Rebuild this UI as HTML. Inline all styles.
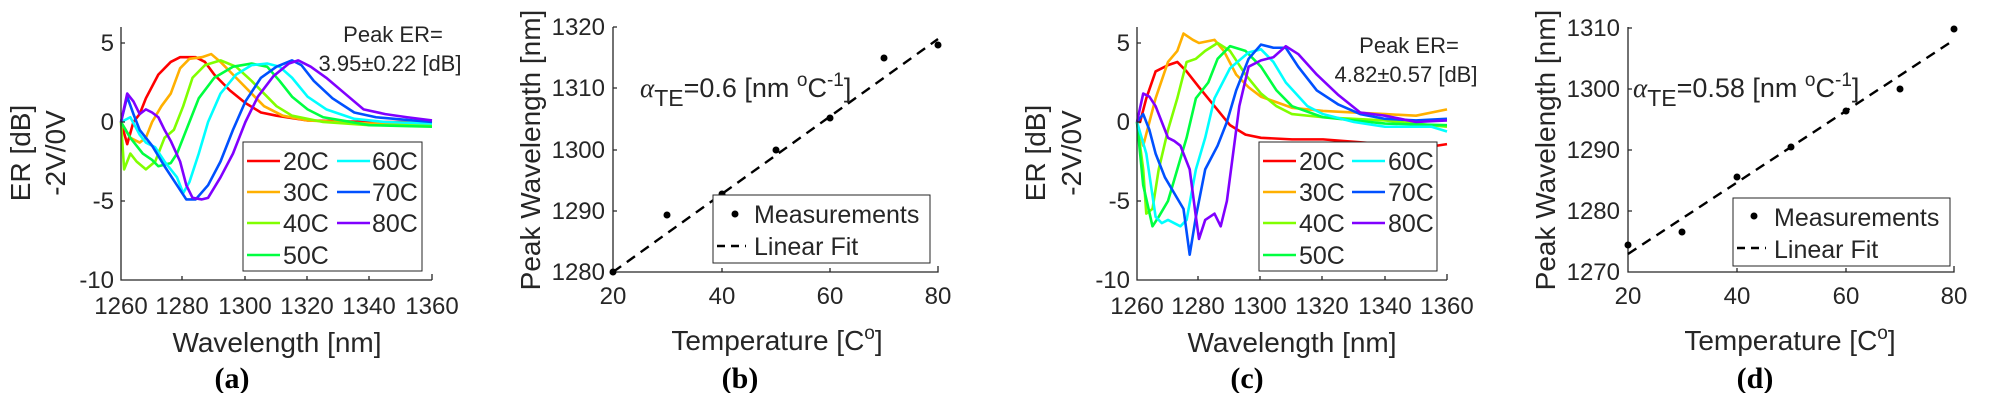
<!DOCTYPE html>
<html><head><meta charset="utf-8">
<style>
html,body{margin:0;padding:0;background:#fff;}
svg{display:block;}
text{font-family:"Liberation Sans",sans-serif;fill:#262626;}
.t{font-size:24px;}
.lab{font-size:28px;}
.leg{font-size:25px;fill:#000;}
.cap{font-family:"Liberation Serif",serif;font-weight:bold;font-size:30px;fill:#000;}
.c{fill:none;stroke-width:2.6;vector-effect:non-scaling-stroke;stroke-linejoin:round;}
.ax{stroke:#262626;stroke-width:1.3;fill:none;}
</style></head>
<body>
<svg width="2000" height="393" viewBox="0 0 2000 393" xmlns="http://www.w3.org/2000/svg">

<!-- ============ Panel A ============ -->
<g>
<g transform="translate(121,122) scale(3.11,-15.8)">
<polyline class="c" stroke="#ff0000" points="0,0 2,-1.4 4,0 6,0.5 8,1.5 12,3 16,3.8 19,4.1 24,4.1 27,3.8 30,3 35,2 40,1.2 45,0.6 50,0.4 60,0.1 80,0 100,0"/>
<polyline class="c" stroke="#ffb000" points="0,0 3,-1 6,-1.3 8,-1 10,0 13,1 16,1.8 19,3.4 22,4 26,4.1 29,4.3 32,3.8 37,2.8 42,1.8 46,1 52,0.4 60,0.1 80,-0.1 100,0"/>
<polyline class="c" stroke="#80ff00" points="0,0 1,-3 3,-2 5,-2.5 8,-3 11,-2.5 14,-1 17,-0.5 20,1 23,2.8 27,3.6 32,3.9 37,3.5 42,2.6 46,1.8 50,1 55,0.4 65,0 80,-0.2 100,-0.2"/>
<polyline class="c" stroke="#00ff40" points="0,0 3,-1 7,-2 10,-2.4 12,-2.8 16,-2.6 18,-2 20,-1 22,0 25,1.5 30,2.8 36,3.5 42,3.7 47,3.5 51,2.6 55,1.6 60,0.8 65,0.3 80,-0.2 100,-0.3"/>
<polyline class="c" stroke="#00ffff" points="0,0 3,0.3 6,-0.8 8,-1.3 11,-1.6 14,-2.5 18,-3.5 20,-4.5 22,-3.8 25,-2 28,0 32,1.8 37,3 42,3.6 47,3.7 51,3.5 55,2.8 60,1.6 66,0.8 75,0.2 85,0 100,-0.1"/>
<polyline class="c" stroke="#0050ff" points="0,0 2,1.6 4,0.5 6,-0.5 10,-1.5 14,-2.8 18,-4 21,-4.9 24,-4.9 28,-4 32,-2.5 36,-0.5 40,1.3 45,2.8 50,3.5 55,3.9 58,3.6 62,2.6 68,1.5 75,0.6 82,0.3 100,0"/>
<polyline class="c" stroke="#8000ff" points="0,0 2,1.8 4,1.3 6,0.5 8,0.8 10,0.6 12,0.3 14,-0.5 16,-1.2 19,-2.5 21,-4 23,-4.8 26,-4.9 28,-4.8 32,-3.5 36,-2 40,0 44,1.6 49,2.9 54,3.7 57,3.9 61,3.5 66,2.8 72,1.8 78,0.8 85,0.5 92,0.3 100,0.1"/>
</g>
<path class="ax" d="M121,27 V280 H432"/>
<path class="ax" d="M121,43 h4 M121,122 h4 M121,201 h4 M182,280 v-4 M245,280 v-4 M307,280 v-4 M369,280 v-4 M432,280 V274"/>
<g class="t" text-anchor="end"><text x="114" y="51">5</text><text x="114" y="130">0</text><text x="114" y="209">-5</text><text x="114" y="288">-10</text></g>
<g class="t" text-anchor="middle"><text x="121" y="314">1260</text><text x="182" y="314">1280</text><text x="245" y="314">1300</text><text x="307" y="314">1320</text><text x="369" y="314">1340</text><text x="432" y="314">1360</text></g>
<text class="lab" x="277" y="352" text-anchor="middle">Wavelength [nm]</text>
<text class="lab" transform="translate(30,153) rotate(-90)" text-anchor="middle">ER [dB]</text>
<text class="lab" transform="translate(65,153) rotate(-90)" text-anchor="middle">-2V/0V</text>
<text x="393" y="42" font-size="22" text-anchor="middle" fill="#000">Peak ER=</text>
<text x="390" y="71" font-size="22" text-anchor="middle" fill="#000">3.95±0.22 [dB]</text>
<rect x="243" y="142" width="179" height="129" fill="#fff" stroke="#262626" stroke-width="1"/>
<g stroke-width="2.6">
<line x1="247" y1="161" x2="280" y2="161" stroke="#ff0000"/><line x1="247" y1="192" x2="280" y2="192" stroke="#ffb000"/><line x1="247" y1="223" x2="280" y2="223" stroke="#80ff00"/><line x1="247" y1="255" x2="280" y2="255" stroke="#00ff40"/>
<line x1="337" y1="161" x2="370" y2="161" stroke="#00ffff"/><line x1="337" y1="192" x2="370" y2="192" stroke="#0050ff"/><line x1="337" y1="223" x2="370" y2="223" stroke="#8000ff"/>
</g>
<g class="leg"><text x="283" y="170">20C</text><text x="283" y="201">30C</text><text x="283" y="232">40C</text><text x="283" y="264">50C</text><text x="372" y="170">60C</text><text x="372" y="201">70C</text><text x="372" y="232">80C</text></g>
<text class="cap" x="232" y="388" text-anchor="middle">(a)</text>
</g>

<!-- ============ Panel B ============ -->
<g>
<path class="ax" d="M613,27 V272 H938 V266"/>
<path class="ax" d="M613,27 h4 M613,88 h4 M613,150 h4 M613,211 h4 M722,272 v-4 M830,272 v-4"/>
<g class="t" text-anchor="end"><text x="605" y="35">1320</text><text x="605" y="96">1310</text><text x="605" y="158">1300</text><text x="605" y="219">1290</text><text x="605" y="280">1280</text></g>
<g class="t" text-anchor="middle"><text x="613" y="304">20</text><text x="722" y="304">40</text><text x="830" y="304">60</text><text x="938" y="304">80</text></g>
<text class="lab" x="777" y="350" text-anchor="middle">Temperature [C<tspan dy="-11" font-size="19">o</tspan><tspan dy="11">]</tspan></text>
<text class="lab" transform="translate(540,150) rotate(-90)" text-anchor="middle">Peak Wavelength [nm]</text>
<line x1="613" y1="272" x2="938" y2="39" stroke="#000" stroke-width="2.4" stroke-dasharray="10,7"/>
<g fill="#000"><circle cx="613" cy="272" r="3.5"/><circle cx="667" cy="215" r="3.5"/><circle cx="722" cy="194" r="3.5"/><circle cx="776" cy="150" r="3.5"/><circle cx="830" cy="118" r="3.5"/><circle cx="884" cy="58" r="3.5"/><circle cx="938" cy="45" r="3.5"/></g>
<text x="640" y="97" font-size="27" fill="#000"><tspan font-family="Liberation Serif,serif" font-style="italic">α</tspan><tspan dy="9" font-size="23">TE</tspan><tspan dy="-9">=0.6 [nm </tspan><tspan dy="-11" font-size="19">o</tspan><tspan dy="11">C</tspan><tspan dy="-11" font-size="19">-1</tspan><tspan dy="11">]</tspan></text>
<rect x="713" y="195" width="217" height="68" fill="#fff" stroke="#262626" stroke-width="1"/>
<circle cx="735" cy="214" r="3.5" fill="#000"/>
<line x1="717" y1="246" x2="746" y2="246" stroke="#000" stroke-width="2.4" stroke-dasharray="8,6"/>
<g class="leg"><text x="754" y="223">Measurements</text><text x="754" y="255">Linear Fit</text></g>
<text class="cap" x="740" y="388" text-anchor="middle">(b)</text>
</g>

<!-- ============ Panel C ============ -->
<g>
<g transform="translate(1137,122) scale(3.1,-15.8)">
<polyline class="c" stroke="#ff0000" points="0,0 1,0 3,1.5 6,3.2 10,3.6 13,3.8 16,3.2 20,2.2 25,1 30,-0.2 35,-0.8 40,-1 50,-1.1 60,-1.1 80,-1.4 90,-1.7 100,-1.4"/>
<polyline class="c" stroke="#ffb000" points="0,0 2,-1.5 4,0 6,1.5 10,3.8 13,4.5 15,5.6 18,5.2 20,5 25,5.2 28,4.5 32,3 36,2.2 40,1.6 50,0.9 60,0.7 80,0.5 90,0.4 100,0.8"/>
<polyline class="c" stroke="#80ff00" points="0,0 2,-3 3,-5.8 5,-5.5 7,-3 10,-0.5 13,1.5 16,3.8 19,4 22,4.5 26,5 30,4.5 35,3 40,1.8 45,1 50,0.5 60,0.3 80,0.1 100,-0.3"/>
<polyline class="c" stroke="#00ff40" points="0,0 2,-4 5,-6.6 7,-6 10,-5 13,-3 16,-1 19,1.5 23,2.5 26,4 30,4.8 35,4.5 40,3.5 45,2 50,1 60,0.3 80,-0.1 100,-0.2"/>
<polyline class="c" stroke="#00ffff" points="0,0 3,-2 6,-6 8,-6.4 10,-6.2 14,-6.6 16,-6.2 19,-3 22,-1 25,1.5 30,3.4 36,4.4 40,4.6 44,3.8 48,2.5 55,1 60,0.5 70,0 80,-0.3 95,-0.3 100,-0.6"/>
<polyline class="c" stroke="#0050ff" points="0,0 2,0.5 4,-0.5 6,-2 9,-3.5 12,-4.5 15,-5.5 17,-8.4 19,-6 22,-3 26,-1.5 29,0 32,2 36,4 40,4.9 44,4.7 48,4.7 52,3.5 58,2 65,1.1 72,0.5 80,0.2 90,0.1 100,0.2"/>
<polyline class="c" stroke="#8000ff" points="0,0 2,1.8 4,1.6 6,1 8,0 10,-1 12,-1.2 14,-1.5 17,-3 19,-6 20,-7.4 22,-6.2 25,-5.8 27,-6.6 29,-5 31,-2 33,1 36,3.5 40,3.9 44,4.1 48,4.8 52,4.3 58,3 65,1.7 72,0.6 80,0.4 90,0 100,0.1"/>
</g>
<path class="ax" d="M1137,27 V280 H1447"/>
<path class="ax" d="M1137,43 h4 M1137,122 h4 M1137,201 h4 M1198,280 v-4 M1260,280 v-4 M1322,280 v-4 M1385,280 v-4 M1447,280 v-6"/>
<g class="t" text-anchor="end"><text x="1130" y="51">5</text><text x="1130" y="130">0</text><text x="1130" y="209">-5</text><text x="1130" y="288">-10</text></g>
<g class="t" text-anchor="middle"><text x="1137" y="314">1260</text><text x="1198" y="314">1280</text><text x="1260" y="314">1300</text><text x="1322" y="314">1320</text><text x="1385" y="314">1340</text><text x="1447" y="314">1360</text></g>
<text class="lab" x="1292" y="352" text-anchor="middle">Wavelength [nm]</text>
<text class="lab" transform="translate(1045,153) rotate(-90)" text-anchor="middle">ER [dB]</text>
<text class="lab" transform="translate(1081,153) rotate(-90)" text-anchor="middle">-2V/0V</text>
<text x="1409" y="53" font-size="22" text-anchor="middle" fill="#000">Peak ER=</text>
<text x="1406" y="82" font-size="22" text-anchor="middle" fill="#000">4.82±0.57 [dB]</text>
<rect x="1259" y="142" width="178" height="129" fill="#fff" stroke="#262626" stroke-width="1"/>
<g stroke-width="2.6">
<line x1="1263" y1="161" x2="1296" y2="161" stroke="#ff0000"/><line x1="1263" y1="192" x2="1296" y2="192" stroke="#ffb000"/><line x1="1263" y1="223" x2="1296" y2="223" stroke="#80ff00"/><line x1="1263" y1="255" x2="1296" y2="255" stroke="#00ff40"/>
<line x1="1352" y1="161" x2="1385" y2="161" stroke="#00ffff"/><line x1="1352" y1="192" x2="1385" y2="192" stroke="#0050ff"/><line x1="1352" y1="223" x2="1385" y2="223" stroke="#8000ff"/>
</g>
<g class="leg"><text x="1299" y="170">20C</text><text x="1299" y="201">30C</text><text x="1299" y="232">40C</text><text x="1299" y="264">50C</text><text x="1388" y="170">60C</text><text x="1388" y="201">70C</text><text x="1388" y="232">80C</text></g>
<text class="cap" x="1247" y="388" text-anchor="middle">(c)</text>
</g>

<!-- ============ Panel D ============ -->
<g>
<path class="ax" d="M1628,27 V272 H1954 V266"/>
<path class="ax" d="M1628,28 h4 M1628,89 h4 M1628,150 h4 M1628,211 h4 M1737,272 v-4 M1846,272 v-4"/>
<g class="t" text-anchor="end"><text x="1620" y="36">1310</text><text x="1620" y="97">1300</text><text x="1620" y="158">1290</text><text x="1620" y="219">1280</text><text x="1620" y="280">1270</text></g>
<g class="t" text-anchor="middle"><text x="1628" y="304">20</text><text x="1737" y="304">40</text><text x="1846" y="304">60</text><text x="1954" y="304">80</text></g>
<text class="lab" x="1790" y="350" text-anchor="middle">Temperature [C<tspan dy="-11" font-size="19">o</tspan><tspan dy="11">]</tspan></text>
<text class="lab" transform="translate(1555,150) rotate(-90)" text-anchor="middle">Peak Wavelength [nm]</text>
<line x1="1628" y1="254" x2="1954" y2="40" stroke="#000" stroke-width="2.4" stroke-dasharray="10,7"/>
<g fill="#000"><circle cx="1628" cy="245" r="3.5"/><circle cx="1682" cy="232" r="3.5"/><circle cx="1737" cy="177" r="3.5"/><circle cx="1791" cy="147" r="3.5"/><circle cx="1846" cy="111" r="3.5"/><circle cx="1900" cy="89" r="3.5"/><circle cx="1954" cy="29" r="3.5"/></g>
<text x="1633" y="97" font-size="27" fill="#000"><tspan font-family="Liberation Serif,serif" font-style="italic">α</tspan><tspan dy="9" font-size="23">TE</tspan><tspan dy="-9">=0.58 [nm </tspan><tspan dy="-11" font-size="19">o</tspan><tspan dy="11">C</tspan><tspan dy="-11" font-size="19">-1</tspan><tspan dy="11">]</tspan></text>
<rect x="1733" y="198" width="217" height="68" fill="#fff" stroke="#262626" stroke-width="1"/>
<circle cx="1754" cy="216" r="3.5" fill="#000"/>
<line x1="1737" y1="248" x2="1766" y2="248" stroke="#000" stroke-width="2.4" stroke-dasharray="8,6"/>
<g class="leg"><text x="1774" y="226">Measurements</text><text x="1774" y="258">Linear Fit</text></g>
<text class="cap" x="1755" y="388" text-anchor="middle">(d)</text>
</g>
</svg>
</body></html>
